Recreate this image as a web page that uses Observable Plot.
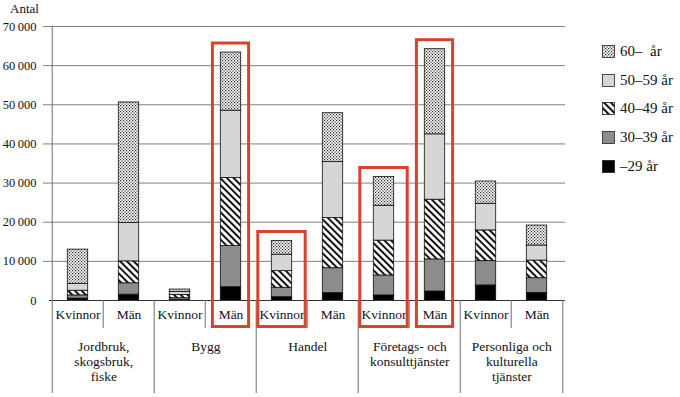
<!DOCTYPE html>
<html><head><meta charset="utf-8">
<script src="https://cdn.jsdelivr.net/npm/d3@7"></script>
<script src="https://cdn.jsdelivr.net/npm/@observablehq/plot@0.6"></script>
<style>
body{margin:0;background:#fff;}
#wrap{position:relative;width:680px;height:397px;font-family:"Liberation Serif","Times New Roman",serif;}
#wrap svg text{font-family:"Liberation Serif","Times New Roman",serif;}
#legend{position:absolute;left:602px;top:37.4px;font-size:15px;color:#111;}
.row{display:flex;align-items:center;height:28.6px;white-space:pre;}
.row svg{margin-right:5px;display:block;}
</style></head><body><div id="wrap"><div id="legend"></div></div>
<script>
const categories = ["Jordbruk", "Bygg", "Handel", "Företags", "Personliga"];
const categoryLabels = ["Jordbruk,\nskogsbruk,\nfiske", "Bygg", "Handel", "Företags- och\nkonsulttjänster", "Personliga och\nkulturella\ntjänster"];
const genders = ["Kvinnor", "Män"];
const ages = ["–29 år", "30–39 år", "40–49 år", "50–59 år", "60–  år"];
// values per bar: J-K, J-M, B-K, B-M, H-K, H-M, F-K, F-M, P-K, P-M
const age29 = [500, 1500, 200, 3400, 850, 1900, 1300, 2300, 3850, 1950];
const age30 = [800, 2900, 400, 10500, 2400, 6350, 5100, 8200, 6200, 3750];
const age40 = [1200, 5600, 800, 17400, 4250, 12800, 8900, 15250, 7850, 4500];
const age50 = [1700, 9800, 800, 17200, 4200, 14300, 8900, 16700, 6800, 3850];
const age60 = [8800, 30800, 600, 14850, 3500, 12500, 7350, 21750, 5700, 5100];
const highlighted = ["Bygg|Män", "Handel|Kvinnor", "Företags|Kvinnor", "Företags|Män"];
const yTicks = [0, 10000, 20000, 30000, 40000, 50000, 60000, 70000];
const yLabel = "Antal";

const FONT = '"Liberation Serif", "Times New Roman", serif';
const W = 680, H = 397, mL = 49, mR = 115, mT = 26, mB = 97;
const keys = categories.flatMap(c => genders.map(g => c + "|" + g));
const bw = (W - mL - mR) / keys.length;
const series = [age29, age30, age40, age50, age60];
const rows = keys.flatMap((k, i) => ages.map((a, j) => ({key: k, age: a, value: series[j][i]})));
const totals = keys.map((k, i) => ({key: k, gender: k.split("|")[1], total: d3.sum(series, s => s[i])}));
const boxes = totals.filter(d => highlighted.includes(d.key));
const fills = ["#000000", "#8c8c8c", "url(#hatch)", "#d6d6d6", "url(#dots)"];
const sepColor = "#6e6e6e";
const red = "#d8432c";

const plot = Plot.plot({
  width: W, height: H, marginLeft: mL, marginRight: mR, marginTop: mT, marginBottom: mB,
  style: {fontFamily: FONT, fontSize: "13px", color: "#111", background: "#fff"},
  x: {domain: keys, padding: 0, axis: null},
  y: {domain: [0, 70000], axis: null},
  color: {type: "ordinal", domain: ages, range: fills},
  marks: [
    Plot.ruleY(yTicks.slice(1), {stroke: "#808080", insetLeft: -6}),
    Plot.axisY(yTicks, {tickSize: 0, tickPadding: 13, fontSize: 12.5, fontFamily: FONT, label: null,
      tickFormat: d => d === 0 ? "0" : d3.format(",")(d).replace(",", "\u2009")}),
    Plot.barY(rows, {x: "key", y: "value", fill: "age", stroke: "#111", strokeWidth: 0.8, insetLeft: 15.3, insetRight: 15.3}),
    Plot.ruleY([0], {stroke: "#333"}),
    Plot.ruleX([keys[0]], {dx: -bw / 2, stroke: sepColor, insetBottom: -93}),
    Plot.ruleX(keys.filter(k => k.endsWith("|Kvinnor")).slice(1), {x: d => d, dx: -bw / 2, y1: 0, y2: 0, insetBottom: -93, stroke: sepColor}),
    Plot.ruleX([keys[keys.length - 1]], {x: d => d, dx: bw / 2, y1: 0, y2: 0, insetBottom: -93, stroke: sepColor}),
    Plot.ruleX(keys.filter(k => k.endsWith("|Män")), {x: d => d, dx: -bw / 2, y1: 0, y2: 0, insetBottom: -28, stroke: sepColor}),
    Plot.axisX(keys, {tickSize: 0, tickPadding: 9, fontSize: 13.5, fontFamily: FONT, label: null, tickFormat: k => k.split("|")[1]}),
    Plot.text(categories, {x: c => c + "|Kvinnor", dx: bw / 2, frameAnchor: "bottom", dy: 40, lineAnchor: "top",
      text: (c, i) => categoryLabels[i], fontSize: 13.5, fontFamily: FONT, lineHeight: 15 / 13.5}),
    Plot.barY(boxes.filter(d => d.gender === "Kvinnor"), {x: "key", y1: 0, y2: "total", fill: "none", stroke: red, strokeWidth: 3,
      insetTop: -9, insetBottom: -26.5, insetLeft: 1.8, insetRight: 1.8}),
    Plot.barY(boxes.filter(d => d.gender === "Män"), {x: "key", y1: 0, y2: "total", fill: "none", stroke: red, strokeWidth: 3,
      insetTop: -9, insetBottom: -26.5, insetLeft: 7.4, insetRight: 7.4}),
    Plot.text([yLabel], {frameAnchor: "top-left", dx: -25, dy: -17.5, textAnchor: "middle", lineAnchor: "middle", fontSize: 13, fontFamily: FONT})
  ]
});

d3.select(plot).insert("defs", ":first-child").html(`
  <pattern id="dots" patternUnits="userSpaceOnUse" width="3" height="3">
    <rect width="3" height="3" fill="#fff"/>
    <rect x="0" y="0" width="1.2" height="1.2" fill="#2a2a2a"/>
    <rect x="1.5" y="1.5" width="1.2" height="1.2" fill="#2a2a2a"/>
  </pattern>
  <pattern id="hatch" patternUnits="userSpaceOnUse" width="4.8" height="4.8" patternTransform="rotate(-45)">
    <rect width="4.8" height="4.8" fill="#fff"/>
    <rect width="2" height="4.8" fill="#111"/>
  </pattern>`);

document.getElementById("wrap").prepend(plot);

const legend = d3.select("#legend");
ages.slice().reverse().forEach(a => {
  const row = legend.append("div").attr("class", "row");
  const s = row.append("svg").attr("width", 13).attr("height", 13);
  s.append("rect").attr("x", 0.5).attr("y", 0.5).attr("width", 12).attr("height", 12)
    .attr("fill", fills[ages.indexOf(a)]).attr("stroke", "#222").attr("stroke-width", 0.8);
  row.append("span").text(a);
});
</script></body></html>
